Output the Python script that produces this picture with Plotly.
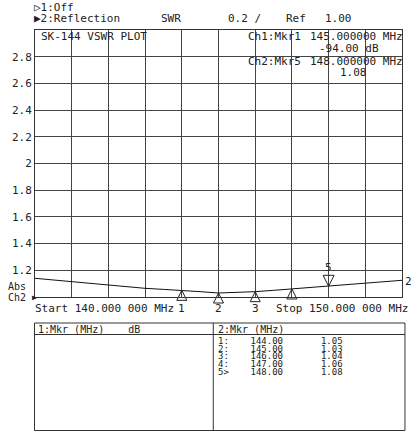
import plotly.graph_objects as go

# trace data (MHz, SWR)
freq_mhz = [140.0, 140.5, 141.0, 141.5, 142.0, 142.5, 143.0, 143.5, 144.0, 144.5,
            145.0, 145.5, 146.0, 146.5, 147.0, 147.5, 148.0, 148.5, 149.0, 149.5, 150.0]
swr = [1.14, 1.128, 1.115, 1.10, 1.088, 1.075, 1.065, 1.057, 1.05, 1.04,
       1.03, 1.033, 1.04, 1.05, 1.06, 1.07, 1.08, 1.09, 1.10, 1.112, 1.125]

# markers
mkr_ids = ["1", "2", "3", "4", "5"]
mkr_freq = [144.0, 145.0, 146.0, 147.0, 148.0]
mkr_swr = [1.05, 1.03, 1.04, 1.06, 1.08]
mkr_rows = ["1:", "2:", "3:", "4:", "5>"]
active_mkr = "5"
hidden_num = "4"  # its number sits under the Stop text on the screen

y_ticks = [1.2, 1.4, 1.6, 1.8, 2.0, 2.2, 2.4, 2.6, 2.8]
y_tick_text = ["1.2", "1.4", "1.6", "1.8", "2", "2.2", "2.4", "2.6", "2.8"]

MONO = "DejaVu Sans Mono"
INK = "#222222"
NB = "\u00a0"

# plot area in pixels: x 30..402, y 30..297
L, R, T, B = 30, 402, 30, 297


def px(x):
    return (x - L) / (R - L)


def py(y):
    return (B - y) / (B - T)


fig = go.Figure()
fig.add_trace(go.Scatter(
    x=freq_mhz, y=swr, mode="lines",
    line=dict(color="#111111", width=1),
    hoverinfo="skip", showlegend=False,
))

# marker triangles, tip on the trace
up = [i for i, m in enumerate(mkr_ids) if m != active_mkr]
dn = [i for i, m in enumerate(mkr_ids) if m == active_mkr]
fig.add_trace(go.Scatter(
    x=[mkr_freq[i] for i in up], y=[mkr_swr[i] for i in up], mode="markers",
    marker=dict(symbol="arrow-up-open", size=10, color=INK,
                line=dict(color=INK, width=1)),
    cliponaxis=False, hoverinfo="skip", showlegend=False,
))
fig.add_trace(go.Scatter(
    x=[mkr_freq[i] for i in dn], y=[mkr_swr[i] for i in dn], mode="markers",
    marker=dict(symbol="arrow-down-open", size=11, color=INK,
                line=dict(color=INK, width=1)),
    cliponaxis=False, hoverinfo="skip", showlegend=False,
))

ann = []


def txt(x, y, s, size=11, anchor="left"):
    ann.append(dict(x=px(x), y=py(y), xref="paper", yref="paper", text=s,
                    showarrow=False, xanchor=anchor, yanchor="middle",
                    font=dict(family=MONO, size=size, color=INK)))


# header
txt(27, 7, "▷1:Off")
txt(27, 19, "▶2:Reflection")
txt(156, 19, "SWR")
txt(224, 19, "0.2 /")
txt(282, 19, "Ref")
txt(322, 19, "1.00")

# in-plot labels
txt(34, 37, "SK-144 VSWR PLOT")
txt(244, 37, "Ch1:Mkr1")
txt(307, 37, "145.000000 MHz")
txt(381, 48, "-94.00 dB", anchor="right")
txt(244, 62, "Ch2:Mkr5")
txt(307, 62, "148.000000 MHz")
txt(369, 73, "1.08", anchor="right")

# left / bottom labels
txt(1, 286, "Abs", size=10)
txt(1, 297, "Ch2", size=10)
txt(25, 297, "▶", size=8)
txt(28, 308, "Start 140.000 000 MHz")
txt(272, 308, "Stop 150.000 000 MHz")
txt(403, 281, "2")

# marker numbers
for mid, f, v in zip(mkr_ids, mkr_freq, mkr_swr):
    if mid == active_mkr:
        ann.append(dict(x=f, y=v, xref="x", yref="y", text=mid, showarrow=False,
                        yanchor="bottom", yshift=10,
                        font=dict(family=MONO, size=11, color=INK)))
    elif mid != hidden_num:
        ann.append(dict(x=f, y=1.0, xref="x", yref="y", text=mid, showarrow=False,
                        yanchor="top", yshift=-3,
                        font=dict(family=MONO, size=11, color=INK)))

# marker table
txt(31, 329, "1:Mkr (MHz)    dB".replace(" ", NB), size=10)
txt(213, 329, "2:Mkr (MHz)".replace(" ", NB), size=10)
row_y = [341, 348.7, 356.3, 364, 371.7]
for r, f, v, y in zip(mkr_rows, mkr_freq, mkr_swr, row_y):
    line = r + NB * 4 + f"{f:.2f}" + NB * 7 + f"{v:.2f}"
    txt(213, y, line, size=9)

shapes = [
    dict(type="rect", xref="paper", yref="paper", x0=px(29.5), x1=px(405),
         y0=py(323), y1=py(430.5), line=dict(color="#333333", width=1)),
    dict(type="line", xref="paper", yref="paper", x0=px(29.5), x1=px(405),
         y0=py(334.5), y1=py(334.5), line=dict(color="#333333", width=1)),
    dict(type="line", xref="paper", yref="paper", x0=px(210.7), x1=px(210.7),
         y0=py(323), y1=py(430.5), line=dict(color="#333333", width=1)),
]

fig.update_layout(
    width=420, height=432,
    margin=dict(l=L, r=420 - R, t=T, b=432 - B),
    paper_bgcolor="white", plot_bgcolor="white",
    annotations=ann, shapes=shapes,
    xaxis=dict(range=[140, 150], dtick=1, showticklabels=False, ticks="",
               showgrid=True, gridcolor="#444444", gridwidth=1,
               showline=True, mirror=True, linecolor="#333333", linewidth=1,
               zeroline=False, fixedrange=True),
    yaxis=dict(range=[1.0, 3.0], tickvals=y_ticks, ticktext=y_tick_text,
               ticks="", showgrid=True, gridcolor="#444444", gridwidth=1,
               showline=True, mirror=True, linecolor="#333333", linewidth=1,
               zeroline=False, fixedrange=True,
               tickfont=dict(family=MONO, size=11, color=INK)),
)

# the page body has an 8px default margin; drop it so the figure sits at 0,0
fig.write_html("out.html", config={"displayModeBar": False},
               post_script="document.body.style.margin='0';")
